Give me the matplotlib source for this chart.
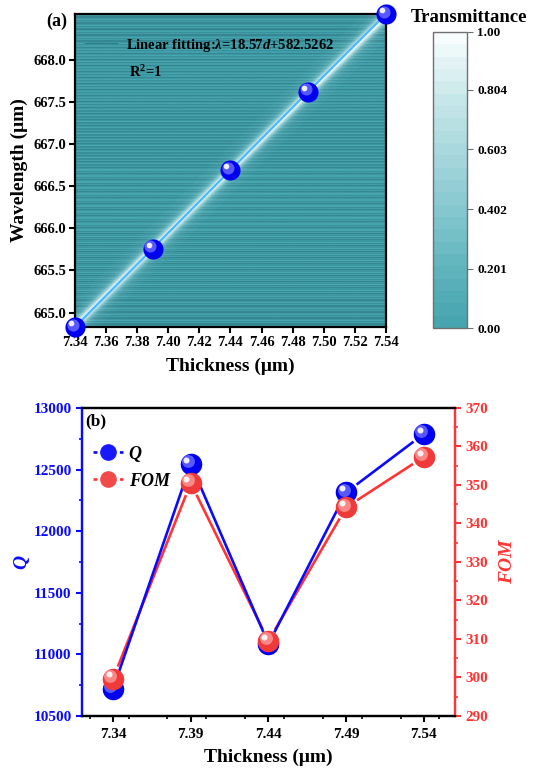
import numpy as np
import matplotlib
matplotlib.use("Agg")
import matplotlib.pyplot as plt
from matplotlib.colors import LinearSegmentedColormap
from matplotlib.transforms import offset_copy
from matplotlib.lines import Line2D
from matplotlib.ticker import FixedLocator, MultipleLocator, FormatStrFormatter

plt.rcParams['font.family'] = ['Liberation Serif', 'DejaVu Serif']
plt.rcParams['font.weight'] = 'bold'
plt.rcParams['mathtext.fontset'] = 'custom'
plt.rcParams['mathtext.rm'] = 'Liberation Serif:bold'
plt.rcParams['mathtext.it'] = 'Liberation Serif:italic:bold'
plt.rcParams['mathtext.bf'] = 'Liberation Serif:bold'

# ---- data ----
thickness = [7.34, 7.39, 7.44, 7.49, 7.54]
resonance = [664.83, 665.76, 666.69, 667.62, 668.54]
fit_label = r'Linear fitting:$\lambda$=18.57$d$+582.5262'
r2_label = r'R$^{2}$=1'
q_factor = [10720, 12545, 11085, 12315, 12790]
fom = [299.7, 350.5, 309.5, 344.2, 357.3]
cbar_ticks = [0.00, 0.201, 0.402, 0.603, 0.804, 1.00]
cbar_labels = ['0.00', '0.201', '0.402', '0.603', '0.804', '1.00']
x_ticks_a = [7.34, 7.36, 7.38, 7.40, 7.42, 7.44, 7.46, 7.48, 7.50, 7.52, 7.54]
y_ticks_a = [665.0, 665.5, 666.0, 666.5, 667.0, 667.5, 668.0]
q_ticks = [10500, 11000, 11500, 12000, 12500, 13000]
fom_ticks = [290, 300, 310, 320, 330, 340, 350, 360, 370]

BLUE = '#0a0aff'
RED = '#ff3535'

fig = plt.figure(figsize=(5.33, 7.78), dpi=100)


def sphere(ax, xs, ys, base, mid, ms, z, tr=None):
    tr = ax.transData if tr is None else tr
    ax.plot(xs, ys, 'o', ms=ms, color=base, mec=base, mew=0, zorder=z,
            transform=tr, clip_on=False)
    t1 = offset_copy(tr, fig=fig, x=-ms * 0.12, y=ms * 0.12, units='points')
    ax.plot(xs, ys, 'o', ms=ms * 0.6, color=mid, mew=0, alpha=0.8,
            zorder=z + 0.1, transform=t1, clip_on=False)
    t2 = offset_copy(tr, fig=fig, x=-ms * 0.2, y=ms * 0.2, units='points')
    ax.plot(xs, ys, 'o', ms=ms * 0.28, color='white', mew=0, alpha=0.9,
            zorder=z + 0.2, transform=t2, clip_on=False)


# ================= panel (a) =================
axa = fig.add_axes([0.1407, 0.5797, 0.5835, 0.4023])
d_lo, d_hi = thickness[0], thickness[-1]
l_lo, l_hi = resonance[0], resonance[-1]

cmap = LinearSegmentedColormap.from_list(
    'trans', [(0.0, '#46a5af'), (0.2, '#62b5be'), (0.4, '#86c8cf'),
              (0.6, '#a9d8dc'), (0.8, '#c9e8ea'), (1.0, '#f7fcfd')], N=24)

# transmittance map around the resonance track
dd = np.linspace(d_lo, d_hi, 500)
nrows = 130
ll = np.linspace(l_lo, l_hi, nrows)
D, L = np.meshgrid(dd, ll)
lam0 = np.interp(D, thickness, resonance)
hw = 0.06
T = 1.0 / (1.0 + ((L - lam0) / hw) ** 2)
im = axa.imshow(T, extent=[d_lo, d_hi, l_lo, l_hi], origin='lower',
                aspect='auto', cmap=cmap, vmin=0, vmax=1,
                interpolation='bilinear', zorder=0)

# fine horizontal banding of the map
band = (np.arange(nrows * 2) * 7 % 5) / 4.0
shade = np.zeros((nrows * 2, 1, 4))
shade[:, 0, 0] = 0.05
shade[:, 0, 1] = 0.25
shade[:, 0, 2] = 0.3
shade[:, 0, 3] = 0.28 * band
axa.imshow(shade, extent=[d_lo, d_hi, l_lo, l_hi], origin='lower',
           aspect='auto', interpolation='nearest', zorder=0.5)
axa.imshow(T, extent=[d_lo, d_hi, l_lo, l_hi], origin='lower',
           aspect='auto', cmap=cmap, vmin=0, vmax=1,
           alpha=np.clip(T * 1.8, 0, 1), interpolation='bilinear', zorder=0.8)

axa.plot(thickness, resonance, color='#4cb8ff', lw=1.6, zorder=3)
sphere(axa, thickness, resonance, '#0000f0', '#6f6fff', 14.5, 5)

axa.set_xlim(d_lo, d_hi)
axa.set_ylim(l_lo, l_hi)
axa.xaxis.set_major_locator(FixedLocator(x_ticks_a))
axa.yaxis.set_major_locator(FixedLocator(y_ticks_a))
axa.xaxis.set_major_formatter(FormatStrFormatter('%.2f'))
axa.yaxis.set_major_formatter(FormatStrFormatter('%.1f'))
axa.tick_params(direction='out', length=4, width=1.5, labelsize=10.5, pad=2.5)
for s in axa.spines.values():
    s.set_linewidth(1.6)
axa.set_xlabel('Thickness (μm)', fontsize=14, fontweight='bold', labelpad=6)
axa.set_ylabel('Wavelength (μm)', fontsize=14, fontweight='bold', labelpad=4)

axa.legend([Line2D([], [], color='#2f7f88', lw=0.8)], [fit_label],
           loc='upper left', bbox_to_anchor=(-0.01, 0.97),
           frameon=False, fontsize=10.5, handlelength=2.2,
           handletextpad=0.6)
axa.text(0.175, 0.815, r2_label, transform=axa.transAxes,
         fontsize=10.5, fontweight='bold', ha='left', va='center')

fig.text(0.107, 0.972, '(a)', fontsize=13, fontweight='bold',
         ha='center', va='center')
fig.text(0.88, 0.978, 'Transmittance', fontsize=13.5, fontweight='bold',
         ha='center', va='center')

cax = fig.add_axes([0.8124, 0.5784, 0.0638, 0.3805])
cb = fig.colorbar(im, cax=cax)
cb.set_ticks(cbar_ticks)
cb.set_ticklabels(cbar_labels)
cb.outline.set_edgecolor('#707070')
cb.outline.set_linewidth(1.0)
cax.tick_params(direction='out', length=4, width=0.8, color='#707070',
                labelsize=9.5)

# ================= panel (b) =================
axb = fig.add_axes([0.1538, 0.0797, 0.6998, 0.3959])
axr = axb.twinx()
axb.set_xlim(7.32, 7.56)
axb.set_ylim(10500, 13000)
axr.set_ylim(290, 370)
axb.set_zorder(axr.get_zorder() + 1)
axb.patch.set_visible(False)

fig.canvas.draw()


def gapped_line(ax, xs, ys, color, gap_px, z):
    pts = ax.transData.transform(np.column_stack([xs, ys]))
    inv = ax.transData.inverted()
    for p, q in zip(pts[:-1], pts[1:]):
        v = q - p
        u = v / np.hypot(*v)
        seg = inv.transform(np.array([p + u * gap_px, q - u * gap_px]))
        ax.plot(seg[:, 0], seg[:, 1], color=color, lw=1.9, zorder=z,
                solid_capstyle='butt')


gapped_line(axb, thickness, q_factor, BLUE, 13, 2)
gapped_line(axr, thickness, fom, RED, 13, 2)
sphere(axb, thickness, q_factor, '#0000f0', '#6f6fff', 15.5, 4)
sphere(axb, thickness, fom, '#f03a3a', '#ff9a9a', 15.5, 6,
       tr=axr.transData + axb.transData.inverted() + axb.transData)

axb.xaxis.set_major_locator(FixedLocator(thickness))
axb.xaxis.set_major_formatter(FormatStrFormatter('%.2f'))
axb.xaxis.set_minor_locator(MultipleLocator(0.025))
axb.yaxis.set_major_locator(FixedLocator(q_ticks))
axb.yaxis.set_minor_locator(MultipleLocator(250))
axr.yaxis.set_major_locator(FixedLocator(fom_ticks))
axr.yaxis.set_minor_locator(MultipleLocator(5))

axb.tick_params(axis='x', which='major', direction='out', length=4,
                width=1.5, labelsize=11, pad=5)
axb.tick_params(axis='x', which='minor', direction='out', length=2.5,
                width=1.2)
axb.tick_params(axis='y', which='major', direction='out', length=4,
                width=1.5, labelsize=11, colors=BLUE)
axb.tick_params(axis='y', which='minor', direction='out', length=2.5,
                width=1.2, colors=BLUE)
axr.tick_params(axis='y', which='major', direction='out', length=4,
                width=1.5, labelsize=11, colors=RED)
axr.tick_params(axis='y', which='minor', direction='out', length=2.5,
                width=1.2, colors=RED)

for ax in (axb, axr):
    for s in ax.spines.values():
        s.set_linewidth(1.6)
axb.spines['left'].set_color(BLUE)
axr.spines['left'].set_color(BLUE)
axb.spines['right'].set_color(RED)
axr.spines['right'].set_color(RED)

axb.set_xlabel('Thickness (μm)', fontsize=14, fontweight='bold', labelpad=5)
axb.set_ylabel('Q', fontsize=14, fontweight='bold', fontstyle='italic',
               color=BLUE, labelpad=2)
axr.set_ylabel('FOM', fontsize=14, fontweight='bold', fontstyle='italic',
               color=RED, labelpad=8)

axb.text(0.01, 0.955, '(b)', transform=axb.transAxes, fontsize=12.5,
         fontweight='bold', ha='left', va='center')

h_q = Line2D([], [], color=BLUE, lw=1.9, dashes=(1.5, 5.5, 1.5),
             marker='o', ms=11, mfc='#1818ff', mec='#1818ff')
h_f = Line2D([], [], color=RED, lw=1.9, dashes=(1.5, 5.5, 1.5),
             marker='o', ms=11, mfc='#f24a4a', mec='#f24a4a')
axb.legend([h_q, h_f], ['Q', 'FOM'], loc='upper left',
           bbox_to_anchor=(-0.015, 0.93), frameon=False,
           prop={'family': 'Liberation Serif', 'weight': 'bold',
                 'style': 'italic', 'size': 13},
           handlelength=1.7, handletextpad=0.3, labelspacing=0.55)

fig.savefig('out.png', dpi=100)
